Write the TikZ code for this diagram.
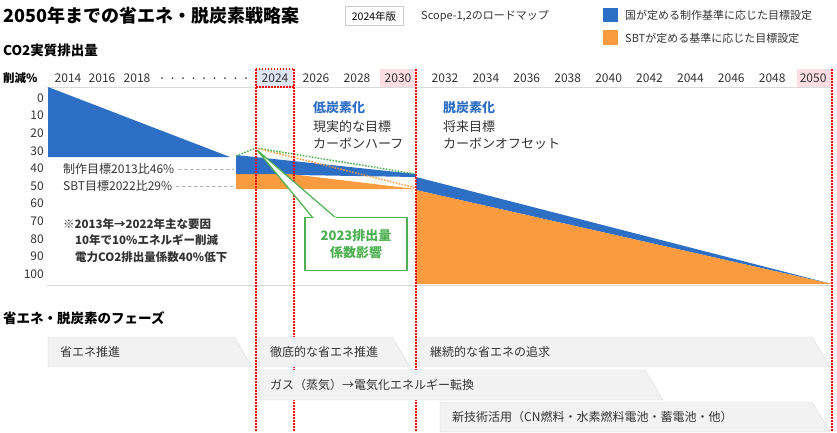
\documentclass[tikz,border=0pt]{standalone}
\usepackage{fontspec}
\setmainfont{Noto Sans CJK JP}
\usetikzlibrary{calc}
\definecolor{cblue}{HTML}{2E6FC6}
\definecolor{corange}{HTML}{FB9B3F}
\definecolor{cgreen}{HTML}{4CB050}
\definecolor{cgray}{HTML}{F2F2F2}
\definecolor{cpink}{HTML}{FBDDE2}
\definecolor{clblue}{HTML}{DDE6F6}
\tikzset{
  lbl/.style={anchor=west, inner sep=0pt, font=\fontsize{12}{14}\selectfont, text=black!80},
  yr/.style={inner sep=0pt, font=\fontsize{12}{14}\selectfont, text=black!80},
  head/.style={anchor=west, inner sep=0pt, font=\bfseries\fontsize{13.5}{16}\selectfont},
  dots/.style={line cap=butt, dash pattern=on 1.5pt off 1.5pt, line width=1.5pt},
  reddot/.style={red, dots},
  phase/.style={fill=cgray, draw=black!15},
}
\begin{document}
\begin{tikzpicture}[line cap=round,line join=round,x=1pt,y=-1pt]
    \useasboundingbox (0,0) rectangle (837,432);

    % title and legend
    \node[anchor=west, inner sep=0pt, font=\bfseries\fontsize{18}{20}\selectfont] (title) at (3,16) {2050年までの省エネ・脱炭素戦略案};
    \node[draw=black!20, fill=white, font=\fontsize{10.5}{12}\selectfont, minimum width=58pt, minimum height=19pt] (ver) at (374,16) {2024年版};
    \node[lbl, font=\fontsize{11}{13}\selectfont] (scope) at (421,16) {Scope-1,2のロードマップ};
    \fill[cblue] (603,8) rectangle (618,22);
    \fill[corange] (603,30) rectangle (618,45);
    \node[lbl, font=\fontsize{11}{13}\selectfont] (legA) at (625,15) {国が定める制作基準に応じた目標設定};
    \node[lbl, font=\fontsize{11}{13}\selectfont] (legB) at (625,38) {SBTが定める基準に応じた目標設定};
    \node[head] (co2) at (3,50) {CO2実質排出量};

    % header highlights
    \fill[clblue] (256,69) rectangle (294,87);
    \fill[cpink] (380,69) rectangle (416,87);
    \fill[cpink] (797,69) rectangle (832,87);
    \node[anchor=west, inner sep=0pt, font=\bfseries\fontsize{11.5}{13}\selectfont] (pct) at (3,78) {削減\%};
    \node[yr] at (68,78) {2014};
    \node[yr] at (102,78) {2016};
    \node[yr] at (137,78) {2018};
    \foreach \i in {0,...,8} {
        \fill[black!70] ({162+\i*10.5},78) circle (1pt);
    }
    \foreach \y [count=\i from 0] in {2024,2026,2028,2030} {
        \node[yr] at ({275+\i*41},78) {\y};
    }
    \foreach \y [count=\i from 0] in {2032,2034,2036,2038,2040,2042,2044,2046,2048,2050} {
        \node[yr] at ({445+\i*40.9},78) {\y};
    }

    % axis
    \draw[black!15] (47,87) -- (832,87);
    \draw[black!15] (47,285) -- (832,285);
    \foreach \v [count=\i from 0] in {0,10,...,100} {
        \node[yr, anchor=east] at (44,{98+\i*17.6}) {\v};
    }

    % areas
    \fill[cblue] (48,87) -- (230,157) -- (48,157) -- cycle;
    \fill[cblue] (236,155) -- (416,174) -- (416,177) -- (236,174) -- cycle;
    \fill[corange] (236,174) -- (290,174) -- (416,189) -- (236,189) -- cycle;
    \fill[cblue] (416,177) -- (832,284) -- (416,190) -- cycle;
    \fill[corange] (416,190) -- (832,284) -- (416,284) -- cycle;

    % target lines
    \node[lbl] (tgtA) at (63,169) {制作目標2013比46\%};
    \node[lbl] (tgtB) at (63,186) {SBT目標2022比29\%};
    \draw[black!30, dashed] (tgtA.east) ++(4,0) -- (234,169);
    \draw[black!30, dashed] (tgtB.east) ++(4,0) -- (234,186);
    \draw[cgreen, dots] (236,156) -- (256,148) -- (416,174);
    \draw[corange, dots] (256,148) -- (416,188);

    % note
    \node[anchor=north west, inner sep=0pt, align=left, font=\bfseries\fontsize{11.5}{16.5}\selectfont, text=black!80] (note) at (63,218)
        {※2013年→2022年主な要因\\\hspace*{12pt}10年で10\%エネルギー削減\\\hspace*{12pt}電力CO2排出量係数40\%低下};

    % phase texts
    \node[anchor=west, inner sep=0pt, font=\bfseries\fontsize{13}{15}\selectfont, text=cblue] (low) at (313,108) {低炭素化};
    \node[anchor=north west, inner sep=0pt, align=left, font=\fontsize{13}{17}\selectfont, text=black!80] (lowtxt) at (313,120) {現実的な目標\\カーボンハーフ};
    \node[anchor=west, inner sep=0pt, font=\bfseries\fontsize{13}{15}\selectfont, text=cblue] (zero) at (443,108) {脱炭素化};
    \node[anchor=north west, inner sep=0pt, align=left, font=\fontsize{13}{17}\selectfont, text=black!80] (zerotxt) at (443,120) {将来目標\\カーボンオフセット};

    % red dotted phase lines
    \draw[reddot] (256,69) rectangle (294,87);
    \foreach \x in {256,294,416,832} {
        \draw[reddot] (\x,69) -- (\x,432);
    }

    % callout
    \coordinate (tip) at (257,150);
    \fill[white] (tip) -- (313,218) -- (336,218) -- cycle;
    \draw[cgreen, line width=1.2pt] (313,218) -- (tip) -- (336,218);
    \node[draw=cgreen, line width=1.2pt, fill=white, minimum width=102pt, minimum height=53pt, align=center, font=\bfseries\fontsize{13}{17}\selectfont, text=cgreen] (call) at (356,244) {2023排出量\\係数影響};
    \draw[white, line width=1.6pt] (314,218) -- (335,218);

    % phases
    \node[head] (phases) at (3,318) {省エネ・脱炭素のフェーズ};
    \foreach \xa/\xb/\ya/\t in {48/252/337/省エネ推進, 258/410/337/徹底的な省エネ推進, 418/830/337/継続的な省エネの追求, 258/663/370/ガス（蒸気）→電気化エネルギー転換, 440/830/402/新技術活用（CN燃料・水素燃料電池・蓄電池・他）} {
        \draw[phase] (\xa,\ya) -- ({\xb-18},\ya) -- (\xb,{\ya+30}) -- (\xa,{\ya+30}) -- cycle;
        \node[lbl] at ({\xa+12},{\ya+15}) {\t};
    }
\end{tikzpicture}
\end{document}
